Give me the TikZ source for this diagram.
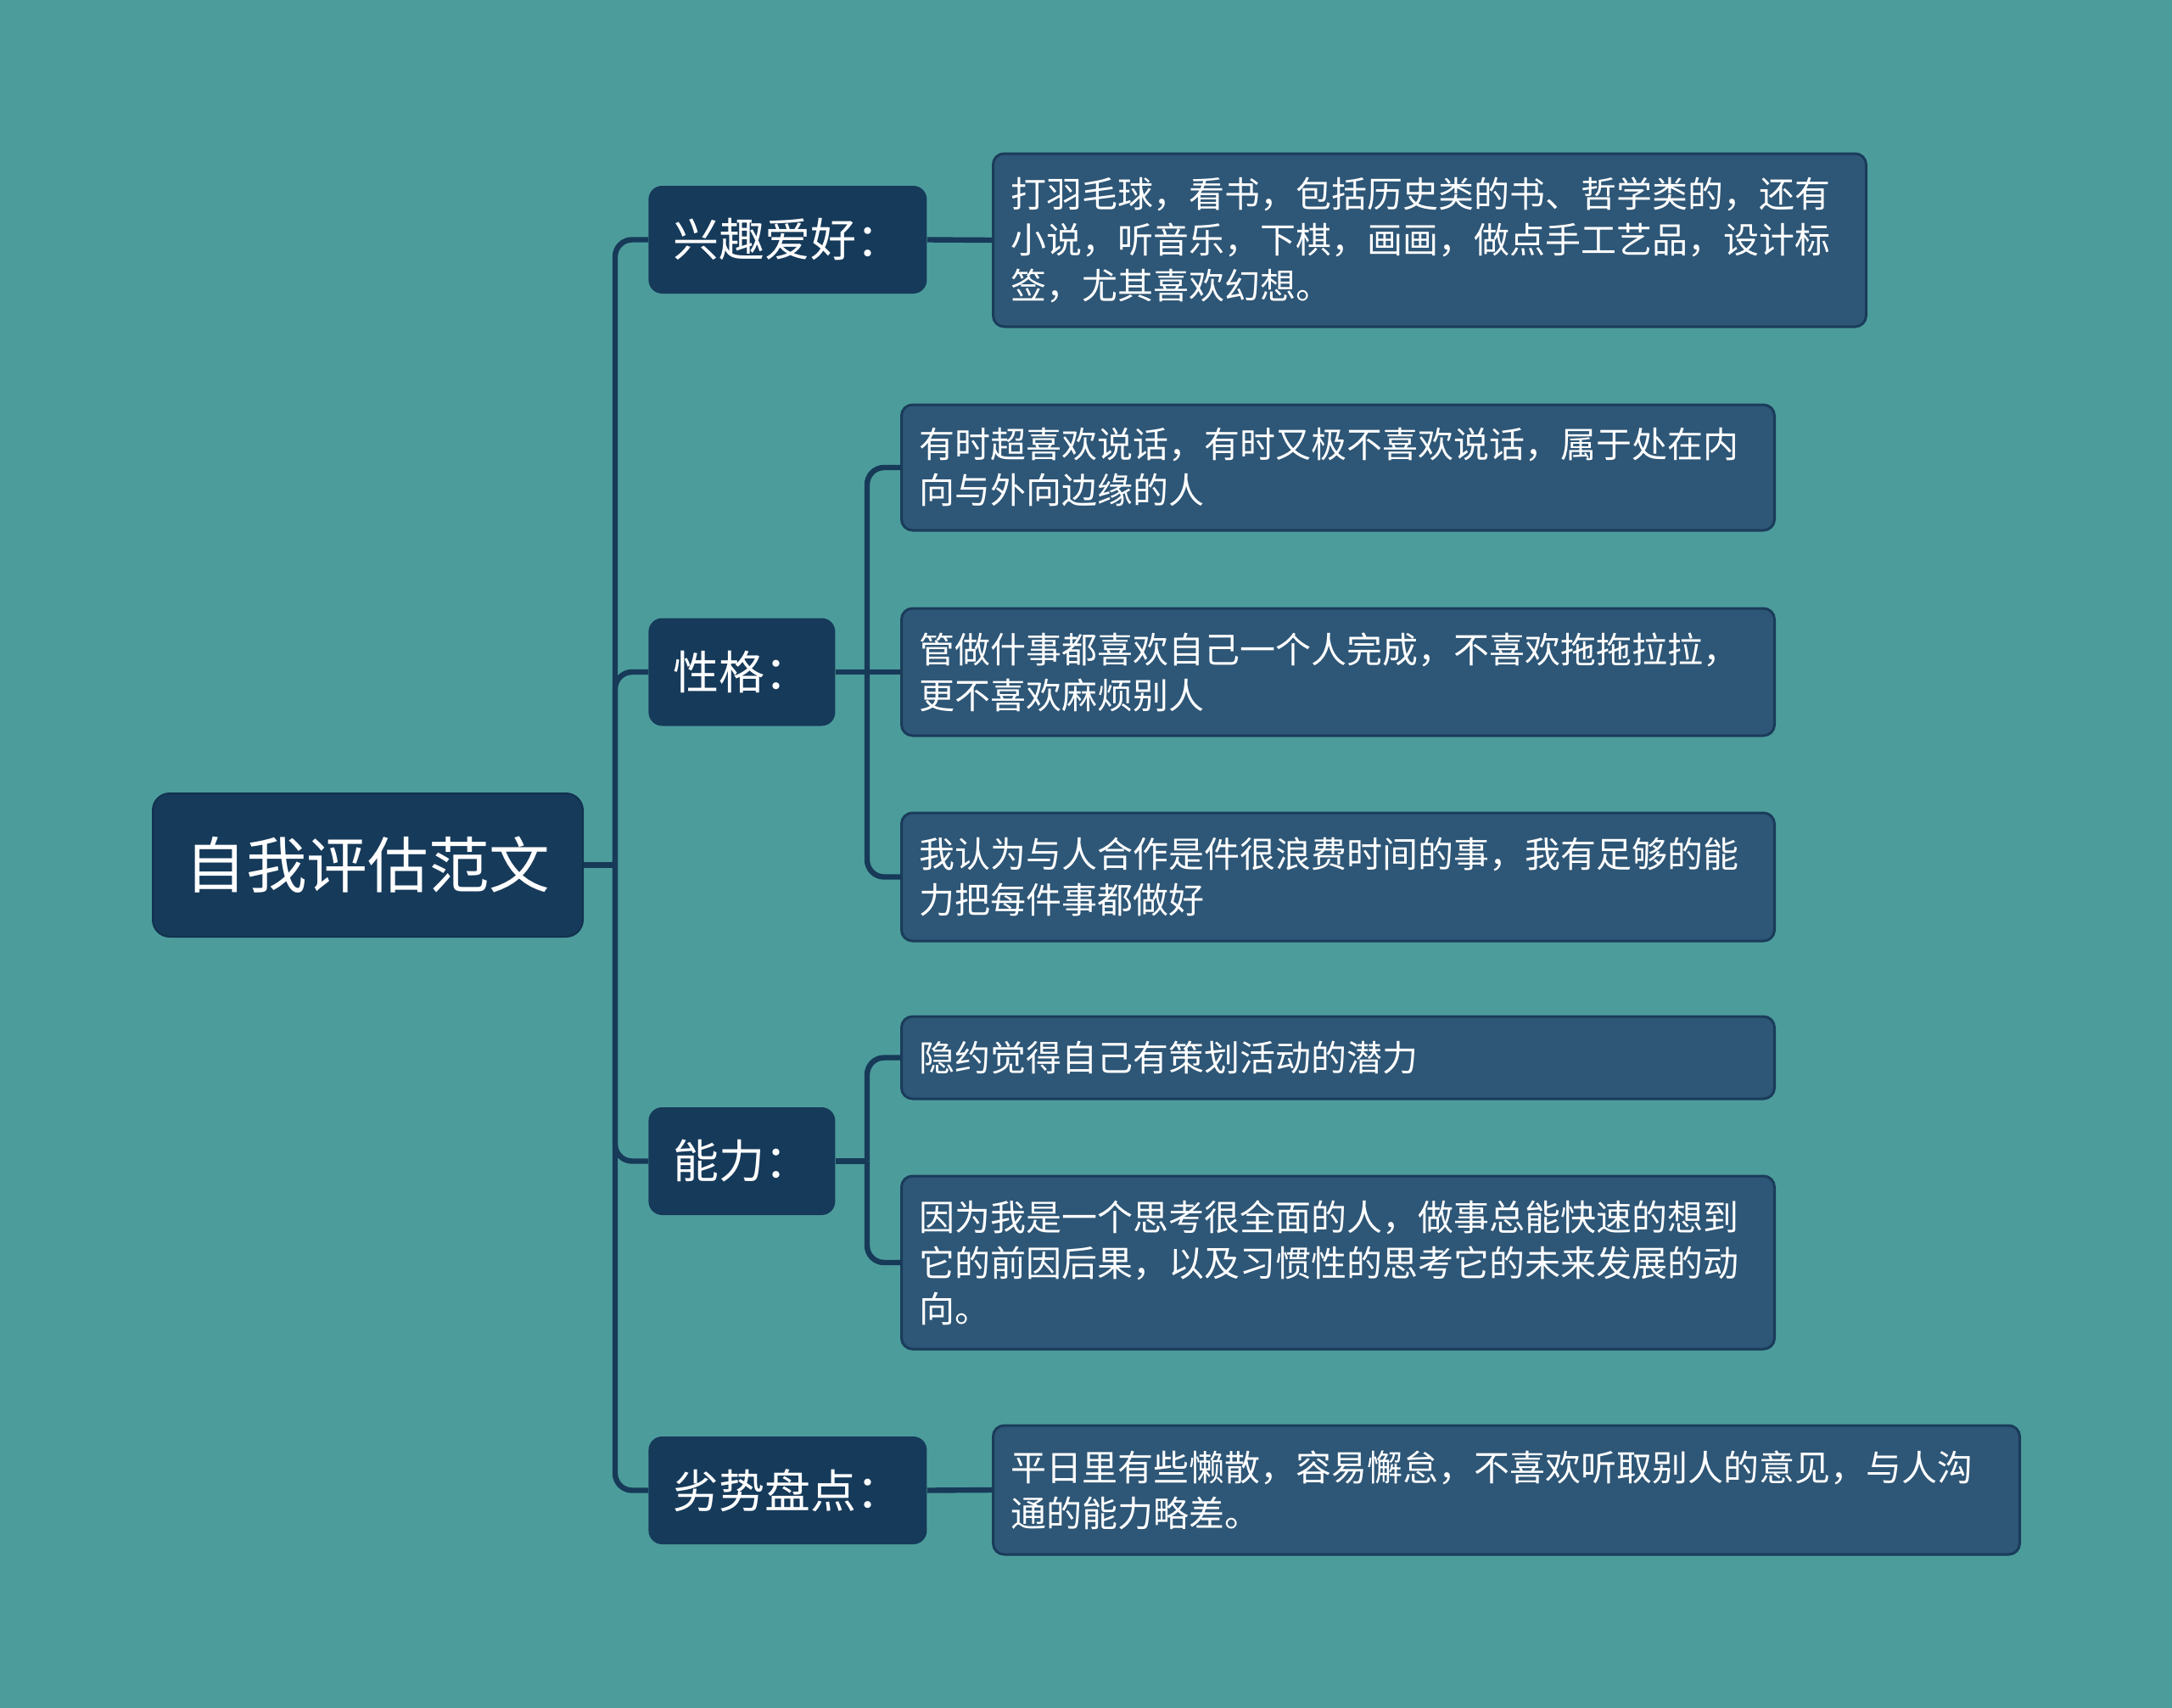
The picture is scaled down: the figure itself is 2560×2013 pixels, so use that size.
\documentclass[tikz,border=0pt]{standalone}
\usepackage{fontspec}
\newfontfamily\cjk{Noto Sans CJK SC}
\definecolor{bgteal}{HTML}{4D9C9C}
\definecolor{rootblue}{HTML}{163A5A}
\definecolor{rootline}{HTML}{12324F}
\definecolor{leafblue}{HTML}{2E5676}
\definecolor{leafline}{HTML}{1A3C5A}
\definecolor{linkblue}{HTML}{173A58}
\tikzset{
  rootbox/.style={fill=rootblue, draw=rootline, line width=1pt, text=white,
    rounded corners=10pt, minimum width=253.5pt, minimum height=84.5pt,
    font=\cjk\fontsize{35.8}{40}\selectfont},
  topic/.style={fill=rootblue, text=white, rounded corners=8pt, anchor=west,
    inner xsep=14.5pt, minimum height=63.5pt, font=\cjk\fontsize{27}{32}\selectfont},
  leaf/.style={draw=leafline, line width=1.5pt, fill=leafblue, text=white,
    rounded corners=6.5pt, inner xsep=10.5pt, align=left, anchor=west,
    font=\cjk\fontsize{21}{27}\selectfont},
  link/.style={draw=linkblue, line width=3.2pt, rounded corners=10pt},
}
\begin{document}
\begin{tikzpicture}[x=0.5pt,y=-0.5pt]
  % Background
  \fill[bgteal] (0,0) rectangle (2560,2013);
  \useasboundingbox (0,0) rectangle (2560,2013);
  % Root and topics
  \node[rootbox] (root) at (433.5,1019.5) {自我评估范文};
  \node[topic] (xq) at (764,282.5)  {兴趣爱好：};
  \node[topic] (xg) at (764,792)    {性格：};
  \node[topic] (nl) at (764,1368.5) {能力：};
  \node[topic] (ls) at (764,1756.5) {劣势盘点：};
  % Leaves
  \node[leaf, text width=493.5pt, minimum height=102pt] (xql) at (1169,283)
    {打羽毛球，看书，包括历史类的书、哲学类的，还有\\小说，听音乐，下棋，画画，做点手工艺品，设计标\\签，尤其喜欢幻想。};
  \node[leaf, text width=493.5pt, minimum height=74pt] (xga) at (1061,551)
    {有时超喜欢说话，有时又极不喜欢说话，属于处在内\\向与外向边缘的人};
  \node[leaf, text width=493.5pt, minimum height=75pt] (xgb) at (1061,792)
    {管做什事都喜欢自己一个人完成，不喜欢拖拖拉拉，\\更不喜欢麻烦别人};
  \node[leaf, text width=493.5pt, minimum height=75.5pt] (xgc) at (1061,1033.5)
    {我认为与人合作是件很浪费时间的事，我有足够的能\\力把每件事都做好};
  \node[leaf, text width=493.5pt, minimum height=48.5pt] (nla) at (1061,1246.5)
    {隐约觉得自己有策划活动的潜力};
  \node[leaf, text width=493.5pt, minimum height=102pt] (nlb) at (1061,1488)
    {因为我是一个思考很全面的人，做事总能快速的想到\\它的前因后果，以及习惯性的思考它的未来发展的动\\向。};
  \node[leaf, text width=584pt, minimum height=76pt] (lsl) at (1169,1756)
    {平日里有些懒散，容易懈怠，不喜欢听取别人的意见，与人沟\\通的能力略差。};
  % Links from root
  \coordinate (rootbus) at (725,1019.5);
  \draw[link] (root.east) -- (rootbus);
  \foreach \t in {xq,xg,nl,ls}
    \draw[link] (rootbus) |- (\t.west);
  % Links from topics
  \draw[link] (xq.east) -- (xql.west);
  \draw[link] (ls.east) -- (lsl.west);
  \coordinate (xgbus) at (1022,792);
  \draw[link] (xg.east) -- (xgb.west);
  \foreach \l in {xga,xgc}
    \draw[link] (xgbus) |- (\l.west);
  \coordinate (nlbus) at (1022,1368.5);
  \draw[link] (nl.east) -- (nlbus);
  \foreach \l in {nla,nlb}
    \draw[link] (nlbus) |- (\l.west);
\end{tikzpicture}
\end{document}
